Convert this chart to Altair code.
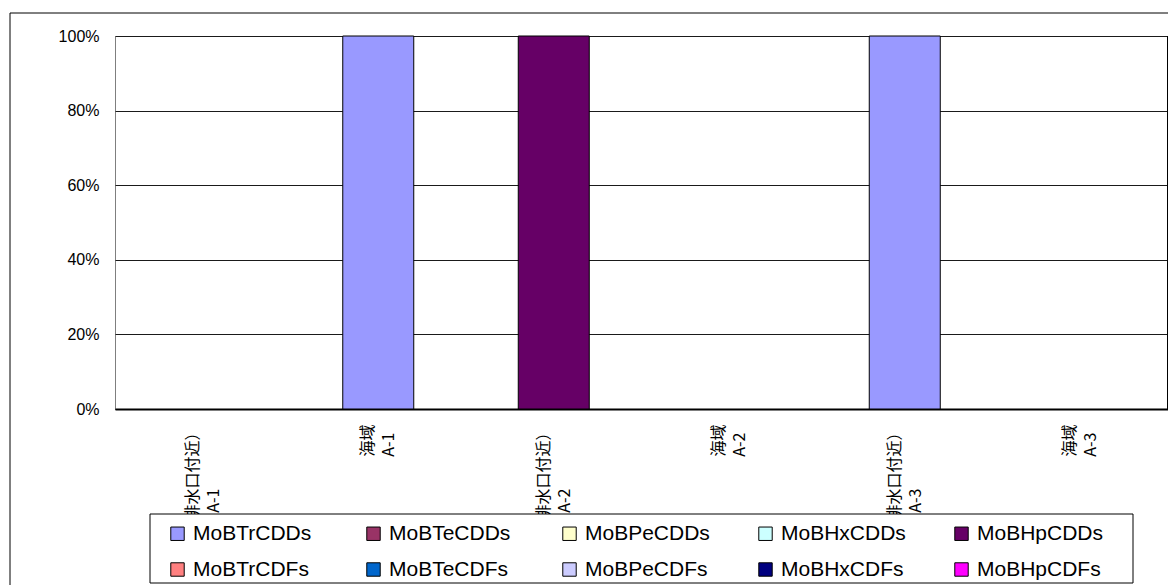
import altair as alt
import pandas as pd

categories = ["（排水口付近）\nA-1", "海域\nA-1", "（排水口付近）\nA-2",
              "海域\nA-2", "（排水口付近）\nA-3", "海域\nA-3"]
series = ["MoBTrCDDs", "MoBTeCDDs", "MoBPeCDDs", "MoBHxCDDs", "MoBHpCDDs",
          "MoBTrCDFs", "MoBTeCDFs", "MoBPeCDFs", "MoBHxCDFs", "MoBHpCDFs"]
colors = ["#9999FF", "#993366", "#FFFFCC", "#CCFFFF", "#660066",
          "#FF8080", "#0066CC", "#CCCCFF", "#000080", "#FF00FF"]
shares = {
    "MoBTrCDDs": [0, 1, 0, 0, 1, 0],
    "MoBTeCDDs": [0, 0, 0, 0, 0, 0],
    "MoBPeCDDs": [0, 0, 0, 0, 0, 0],
    "MoBHxCDDs": [0, 0, 0, 0, 0, 0],
    "MoBHpCDDs": [0, 0, 1, 0, 0, 0],
    "MoBTrCDFs": [0, 0, 0, 0, 0, 0],
    "MoBTeCDFs": [0, 0, 0, 0, 0, 0],
    "MoBPeCDFs": [0, 0, 0, 0, 0, 0],
    "MoBHxCDFs": [0, 0, 0, 0, 0, 0],
    "MoBHpCDFs": [0, 0, 0, 0, 0, 0],
}

rows = []
for si, s in enumerate(series):
    for ci, c in enumerate(categories):
        rows.append({"cat": c, "series": s, "order": si, "value": shares[s][ci]})
df = pd.DataFrame(rows)

W, H = 1053, 373
LATIN = "Liberation Sans"
CJK = "Noto Sans CJK JP"

# second line start-aligned with the first (Excel-style rotated label block);
# a zero-width char keeps the padding from being trimmed
label_expr = (
    "[split(datum.label, '\\n')[0], split(datum.label, '\\n')[1] + "
    "(length(split(datum.label, '\\n')[0]) > 3 ? '\u3000\u3000\u3000\u3000\u200b' : '\u2002\u200b')]"
)

bars = alt.Chart(df).transform_filter("datum.value > 0").mark_bar(
    size=71, stroke="black", strokeWidth=1, opacity=1
).encode(
    x=alt.X("cat:N", sort=categories, title=None,
            scale=alt.Scale(domain=categories, paddingInner=0, paddingOuter=0),
            axis=alt.Axis(labelAngle=-90, labelExpr=label_expr,
                          labelFont=CJK, labelFontSize=16, labelLineHeight=21,
                          labelColor="black", labelPadding=15, labelOffset=-10,
                          ticks=False, domainColor="black", domainWidth=2,
                          grid=False, labelLimit=300)),
    y=alt.Y("value:Q", stack="zero", title=None,
            scale=alt.Scale(domain=[0, 1], nice=False),
            axis=alt.Axis(format="%", values=[0, 0.2, 0.4, 0.6, 0.8, 1.0],
                          labelFont=LATIN, labelFontSize=16, labelColor="black",
                          labelPadding=16, ticks=False, domain=False,
                          gridColor="#1a1a1a", gridWidth=1)),
    color=alt.Color("series:N", scale=alt.Scale(domain=series, range=colors),
                    legend=alt.Legend(
                        title=None, orient="none", legendX=52, legendY=487,
                        direction="horizontal", columns=5, gridAlign="all",
                        columnPadding=43, rowPadding=14, padding=0,
                        symbolType="square", symbolSize=180,
                        symbolStrokeColor="black", symbolStrokeWidth=1,
                        symbolOpacity=1, labelFont=LATIN, labelFontSize=21,
                        labelColor="black", labelOffset=5, labelLimit=300)),
    order=alt.Order("order:Q"),
)

one = pd.DataFrame({"a": [0]})
outer = alt.Chart(one).mark_rect(filled=False, stroke="black", strokeWidth=1).encode(
    x=alt.value(-105), x2=alt.value(1080), y=alt.value(-23), y2=alt.value(620))
legend_box = alt.Chart(one).mark_rect(fill="white", stroke="black", strokeWidth=1).encode(
    x=alt.value(35), x2=alt.value(1018), y=alt.value(478), y2=alt.value(547))
right_edge = alt.Chart(one).mark_rule(color="black", strokeWidth=2).encode(
    x=alt.value(W), y=alt.value(0), y2=alt.value(H))

chart = alt.layer(outer, bars, legend_box, right_edge).properties(
    width=W, height=H,
    autosize=alt.AutoSizeParams(type="none"),
    padding={"left": 107, "top": 28, "right": 0, "bottom": 180},
    background="white",
).configure_view(stroke="#7f7f7f", strokeWidth=1)

chart.save("out.html", embed_options={"renderer": "svg", "actions": False})
